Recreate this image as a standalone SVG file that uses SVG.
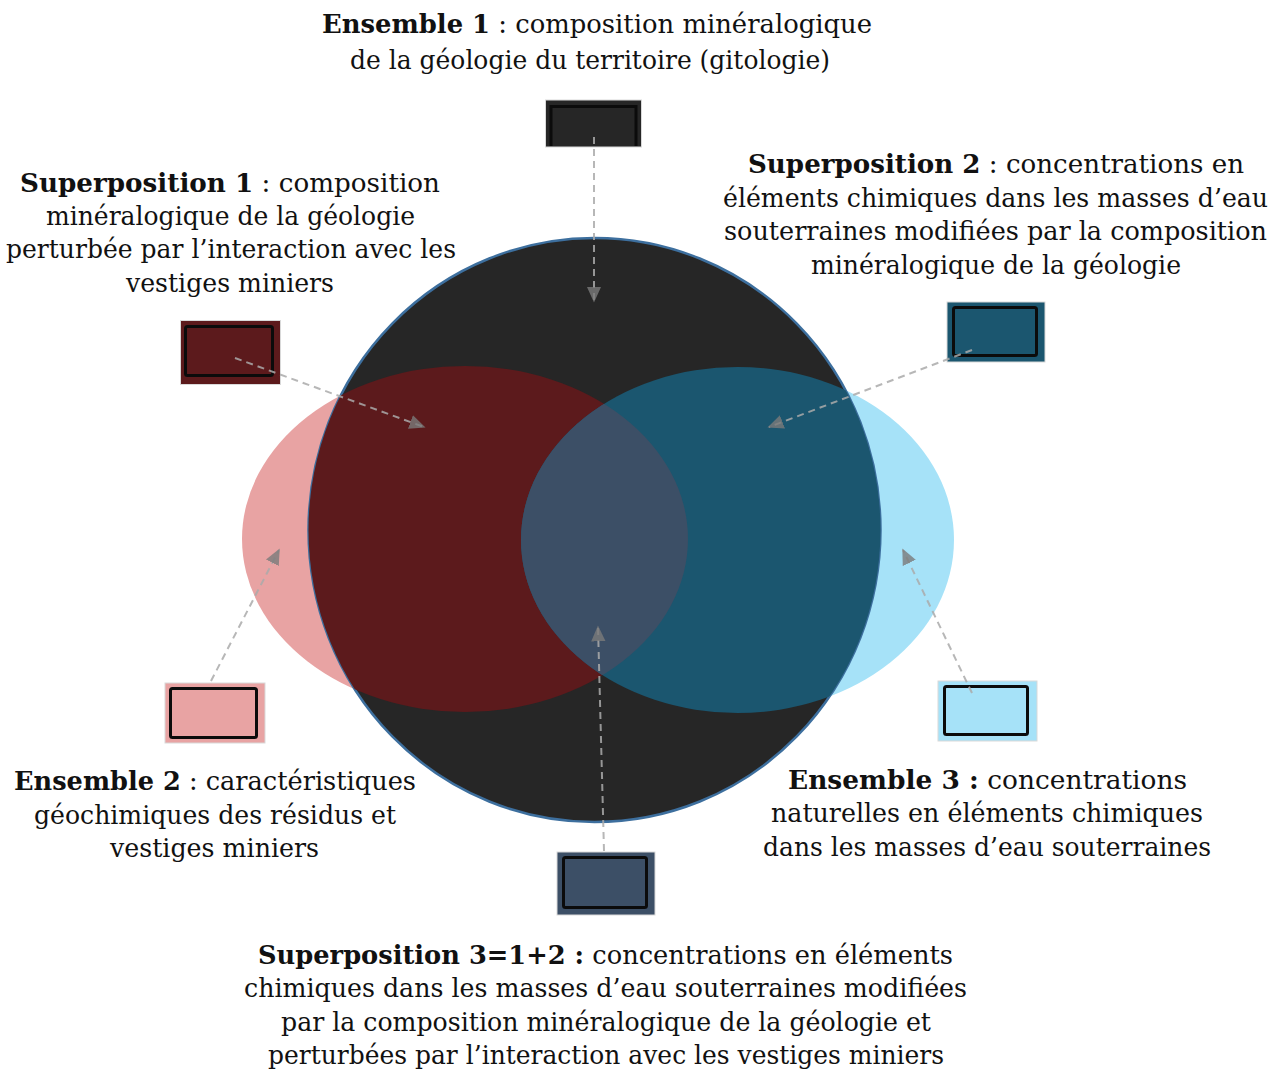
<svg xmlns="http://www.w3.org/2000/svg" width="1281" height="1072" viewBox="0 0 1281 1072">
<style>
.t{font-family:"DejaVu Serif","Liberation Serif",serif;font-size:25.5px;fill:#111;text-anchor:middle}
.b{font-weight:bold}
.sw{stroke:#d9d9d9;stroke-width:1}
.in{fill:none;stroke:#0b0b0b;stroke-width:3}
.con{fill:none;stroke:#aaaaaa;stroke-opacity:0.85;stroke-width:2;stroke-dasharray:7 5}
</style>
<defs>
<marker id="ah" viewBox="0 0 10 10" refX="9" refY="5" markerWidth="16" markerHeight="16" markerUnits="userSpaceOnUse" orient="auto">
<path d="M0,0.5 L10,5 L0,9.5 Z" fill="#7a7a7a" fill-opacity="0.8"/>
</marker>
<clipPath id="cc"><ellipse cx="594.5" cy="530" rx="286" ry="292"/></clipPath>
<clipPath id="cp"><ellipse cx="465" cy="539" rx="223" ry="173"/></clipPath>
</defs>

<g id="venn">
<ellipse cx="465" cy="539" rx="223" ry="173" fill="#e8a3a3"/>
<ellipse cx="737.5" cy="540" rx="216.5" ry="173" fill="#a6e2f8"/>
<ellipse cx="594.5" cy="530" rx="286" ry="292" fill="#262626" stroke="#3d6f9e" stroke-width="2.5"/>
<g clip-path="url(#cc)">
<ellipse cx="465" cy="539" rx="223" ry="173" fill="#5c1a1c"/>
<ellipse cx="737.5" cy="540" rx="216.5" ry="173" fill="#1b566f"/>
<ellipse cx="737.5" cy="540" rx="216.5" ry="173" fill="#3c4f66" clip-path="url(#cp)"/>
</g>
</g>

<g id="sw-ens1">
<rect class="sw" x="545.5" y="100" width="96" height="47" fill="#262626"/>
<path class="in" d="M551,146 V106.5 H636 V146"/>
</g>
<g id="sw-sup1">
<rect class="sw" x="180.5" y="320.5" width="100" height="64" fill="#5c1a1c"/>
<rect class="in" x="185.5" y="326.5" width="87" height="49" rx="2"/>
</g>
<g id="sw-sup2">
<rect class="sw" x="947" y="302" width="98" height="60" fill="#1b566f"/>
<rect class="in" x="953.5" y="307.5" width="83" height="48" rx="2"/>
</g>
<g id="sw-ens2">
<rect class="sw" x="165" y="683" width="100" height="60" fill="#e8a3a3"/>
<rect class="in" x="170.5" y="688.5" width="86" height="49" rx="2" stroke="#333"/>
</g>
<g id="sw-ens3">
<rect class="sw" x="938" y="681" width="99" height="60" fill="#a6e2f8"/>
<rect class="in" x="944.5" y="686.5" width="83" height="48" rx="2" stroke="#333"/>
</g>
<g id="sw-sup3">
<rect class="sw" x="557" y="852" width="98" height="63" fill="#3c4f66"/>
<rect class="in" x="563.5" y="857.5" width="83" height="50" rx="2"/>
</g>

<g id="connectors">
<line class="con" x1="594" y1="137" x2="594" y2="301" marker-end="url(#ah)"/>
<line class="con" x1="235" y1="358" x2="424" y2="427" marker-end="url(#ah)"/>
<line class="con" x1="972" y1="350" x2="769" y2="427" marker-end="url(#ah)"/>
<line class="con" x1="211" y1="681" x2="279" y2="550" marker-end="url(#ah)"/>
<line class="con" x1="972" y1="693" x2="903" y2="550" marker-end="url(#ah)"/>
<line class="con" x1="604" y1="851" x2="598" y2="627" marker-end="url(#ah)"/>
</g>

<g id="label-ens1">
<text class="t" x="597" y="33" textLength="550" lengthAdjust="spacingAndGlyphs"><tspan class="b">Ensemble 1</tspan> : composition minéralogique</text>
<text class="t" x="590" y="69" textLength="480" lengthAdjust="spacingAndGlyphs">de la géologie du territoire (gitologie)</text>
</g>
<g id="label-sup1">
<text class="t" x="230" y="192" textLength="420" lengthAdjust="spacingAndGlyphs"><tspan class="b">Superposition 1</tspan> : composition</text>
<text class="t" x="230.5" y="225" textLength="369" lengthAdjust="spacingAndGlyphs">minéralogique de la géologie</text>
<text class="t" x="231" y="258" textLength="450" lengthAdjust="spacingAndGlyphs">perturbée par l’interaction avec les</text>
<text class="t" x="230" y="292" textLength="208" lengthAdjust="spacingAndGlyphs">vestiges miniers</text>
</g>
<g id="label-sup2">
<text class="t" x="996" y="173" textLength="496" lengthAdjust="spacingAndGlyphs"><tspan class="b">Superposition 2</tspan> : concentrations en</text>
<text class="t" x="995.5" y="207" textLength="545" lengthAdjust="spacingAndGlyphs">éléments chimiques dans les masses d’eau</text>
<text class="t" x="995.5" y="240" textLength="543" lengthAdjust="spacingAndGlyphs">souterraines modifiées par la composition</text>
<text class="t" x="996" y="274" textLength="370" lengthAdjust="spacingAndGlyphs">minéralogique de la géologie</text>
</g>
<g id="label-ens2">
<text class="t" x="215" y="790" textLength="402" lengthAdjust="spacingAndGlyphs"><tspan class="b">Ensemble 2</tspan> : caractéristiques</text>
<text class="t" x="215" y="824" textLength="362" lengthAdjust="spacingAndGlyphs">géochimiques des résidus et</text>
<text class="t" x="214.5" y="857" textLength="209" lengthAdjust="spacingAndGlyphs">vestiges miniers</text>
</g>
<g id="label-ens3">
<text class="t" x="987.5" y="789" textLength="399" lengthAdjust="spacingAndGlyphs"><tspan class="b">Ensemble 3 :</tspan>  concentrations</text>
<text class="t" x="987" y="822" textLength="432" lengthAdjust="spacingAndGlyphs">naturelles en éléments chimiques</text>
<text class="t" x="987" y="856" textLength="448" lengthAdjust="spacingAndGlyphs">dans les masses d’eau souterraines</text>
</g>
<g id="label-sup3">
<text class="t" x="605.5" y="964" textLength="695" lengthAdjust="spacingAndGlyphs"><tspan class="b">Superposition 3=1+2 :</tspan> concentrations en éléments</text>
<text class="t" x="605.5" y="997" textLength="723" lengthAdjust="spacingAndGlyphs">chimiques dans les masses d’eau souterraines modifiées</text>
<text class="t" x="606" y="1031" textLength="650" lengthAdjust="spacingAndGlyphs">par la composition minéralogique de la géologie et</text>
<text class="t" x="606" y="1064" textLength="676" lengthAdjust="spacingAndGlyphs">perturbées par l’interaction avec les vestiges miniers</text>
</g>
</svg>
